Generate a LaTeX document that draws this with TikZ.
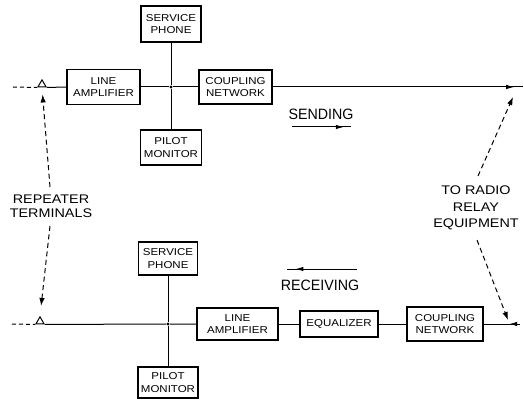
\documentclass[tikz,border=0pt]{standalone}
\usepackage{fontspec}
\setmainfont{Liberation Sans}[FakeStretch=1.15]
\newfontfamily\tallfont{Liberation Sans}[FakeStretch=0.95]
\usetikzlibrary{arrows.meta,shapes.geometric,decorations.markings}
\begin{document}
\begin{tikzpicture}[x=1pt,y=-1pt,
 box/.style={draw,line width=1.5pt,align=center,inner sep=1pt,font=\fontsize{10}{12.5}\selectfont},
 wire/.style={line width=1pt},
 term/.style={draw,regular polygon,regular polygon sides=3,minimum size=9.5pt,inner sep=0pt,line width=1pt,fill=white},
 jdot/.style={circle,fill,inner sep=0pt,minimum size=3.2pt},
 lbl/.style={align=center,font=\fontsize{12.5}{15.5}\selectfont},
 biglbl/.style={font=\tallfont\fontsize{15}{18}\selectfont},
 dasharr/.style={line width=1pt,dash pattern=on 5pt off 3.5pt,-{Latex[length=8pt,width=5.5pt]}},
 dashln/.style={line width=1pt,dash pattern=on 4pt off 3pt},
 fwdarr/.style={postaction={decorate},decoration={markings,mark=at position #1 with {\arrow{Latex[length=8pt,width=4.5pt]}}}},
 revarr/.style={postaction={decorate},decoration={markings,mark=at position #1 with {\arrowreversed{Latex[length=8pt,width=4.5pt]}}}},
 ]
\useasboundingbox (0,0) rectangle (524,403);

% ---------- sending chain ----------
\coordinate (d1) at (13,87);
\node[term] (t1) at (42,84.6) {};
\node[box,minimum width=73pt,minimum height=35pt] (la1) at (103.5,87) {LINE\\AMPLIFIER};
\node[jdot] (j1) at (171,87) {};
\node[box,minimum width=60pt,minimum height=36pt] (sp1) at (171,24) {SERVICE\\PHONE};
\node[box,minimum width=61pt,minimum height=35pt] (pm1) at (171,147.5) {PILOT\\MONITOR};
\node[box,minimum width=73pt,minimum height=34pt] (cn1) at (235.5,87) {COUPLING\\NETWORK};
\coordinate (e1) at (523,87);

\draw[dashln] (d1) -- (t1.corner 2);
\draw[wire] (t1.corner 3) -- (la1.west);
\draw[wire] (la1.east) -- (j1) -- (cn1.west);
\draw[wire] (sp1.south) -- (j1) -- (pm1.north);
\draw[wire,fwdarr=0.965] (cn1.east) -- (e1);

% ---------- receiving chain ----------
\coordinate (d2) at (12,324);
\node[term] (t2) at (40,321.6) {};
\node[jdot] (j2) at (168,324) {};
\node[box,minimum width=59pt,minimum height=33pt] (sp2) at (168,258.5) {SERVICE\\PHONE};
\node[box,minimum width=60pt,minimum height=31pt] (pm2) at (168,382.5) {PILOT\\MONITOR};
\node[box,minimum width=81pt,minimum height=32pt] (la2) at (237.5,324) {LINE\\AMPLIFIER};
\node[box,minimum width=78pt,minimum height=26pt] (eq2) at (339,324) {EQUALIZER};
\node[box,minimum width=76pt,minimum height=34pt] (cn2) at (445,324) {COUPLING\\NETWORK};
\coordinate (e2) at (520,324);

\draw[dashln] (d2) -- (t2.corner 2);
\draw[wire] (t2.corner 3) -- (j2) -- (la2.west);
\draw[wire] (sp2.south) -- (j2) -- (pm2.north);
\draw[wire] (la2.east) -- (eq2.west);
\draw[wire] (eq2.east) -- (cn2.west);
\draw[wire,revarr=0.7] (cn2.east) -- (e2);

% ---------- direction labels ----------
\node[biglbl] (send) at (321,114) {SENDING};
\coordinate (sa) at (292,127);
\coordinate (sb) at (351,127);
\draw[wire,fwdarr=0.88] (sa) -- (sb);

\node[biglbl] (recv) at (320,285) {RECEIVING};
\coordinate (ra) at (357,269);
\coordinate (rb) at (287,269);
\draw[wire,fwdarr=0.88] (ra) -- (rb);

% ---------- side labels ----------
\node[lbl,font=\fontsize{12.5}{14}\selectfont] (rep) at (51,206) {REPEATER\\TERMINALS};
\coordinate (r1) at (50,187);
\coordinate (r2) at (50,226);
\draw[dasharr,shorten >=7pt] (r1) -- (t1.south);
\draw[dasharr,shorten >=10pt] (r2) -- (t2.north);

\node[lbl,font=\fontsize{12.5}{16.5}\selectfont] (radio) at (476,208) {TO RADIO\\RELAY\\EQUIPMENT};
\coordinate (q1) at (478,176);
\coordinate (q2) at (477,240);
\coordinate (qt1) at (513,97);
\coordinate (qt2) at (508,320);
\draw[dasharr] (q1) -- (qt1);
\draw[dasharr] (q2) -- (qt2);
\end{tikzpicture}
\end{document}
